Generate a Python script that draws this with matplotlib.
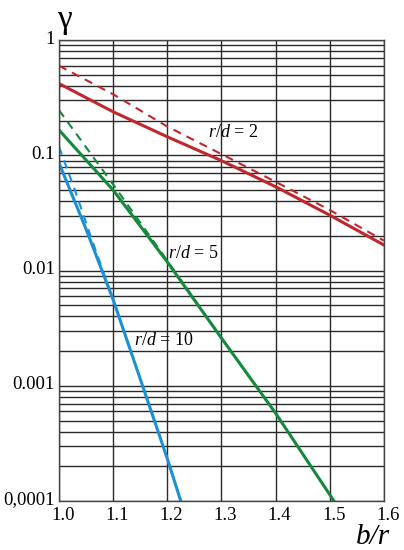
import numpy as np
import matplotlib
matplotlib.use("Agg")
import matplotlib.pyplot as plt
import matplotlib.ticker as ticker
import matplotlib.transforms as mtransforms

plt.rcParams["font.family"] = ["Liberation Serif", "DejaVu Serif"]
plt.rcParams["mathtext.fontset"] = "custom"
plt.rcParams["mathtext.rm"] = "Liberation Serif"
plt.rcParams["mathtext.it"] = "Liberation Serif:italic"

# ── DATA (gamma on a log scale) ───────────────────────────────────────────────
x_red = [1.0, 1.1, 1.2, 1.3, 1.4, 1.5, 1.6]
g_red = [0.42, 0.239, 0.145, 0.090, 0.0535, 0.0303, 0.0167]
g_red_dash = [0.60, 0.339, 0.178, 0.1026, 0.059, 0.0336, 0.0182]

x_green = [1.0, 1.1, 1.2, 1.3, 1.4, 1.5, 1.508]
g_green = [0.166, 0.050, 0.0119, 0.0026, 0.00058, 0.000114, 0.0001]
x_green_dash = [1.0, 1.1, 1.2, 1.3, 1.4, 1.5]
g_green_dash = [0.247, 0.0560, 0.0122, 0.0026, 0.00058, 0.000114]

x_blue = [1.0, 1.05, 1.1, 1.15, 1.2, 1.225]
g_blue = [0.086, 0.0229, 0.0056, 0.00115, 0.000234, 0.0001]
x_blue_dash = [1.0, 1.03, 1.06, 1.1, 1.13]
g_blue_dash = [0.119, 0.0490, 0.0190, 0.0056, 0.00215]

x_ticks = [1.0, 1.1, 1.2, 1.3, 1.4, 1.5, 1.6]
x_ticklabels = ["1.0", "1.1", "1.2", "1.3", "1.4", "1.5", "1.6"]
y_ticks = [1, 0.1, 0.01, 0.001, 0.0001]
y_ticklabels = ["1", "0.1", "0.01", "0.001", "0,0001"]

C_RED = "#c0272d"
C_GREEN = "#15893c"
C_BLUE = "#1b90d2"

# ── FIGURE ────────────────────────────────────────────────────────────────────
fig = plt.figure(figsize=(4.04, 5.5), dpi=100)
ax = fig.add_axes([0.146, 0.089, 0.804, 0.838])
ax.set_yscale("log")
ax.set_xlim(1.0, 1.6)
ax.set_ylim(0.0001, 1)

ax.set_xticks(x_ticks)
ax.set_xticklabels(x_ticklabels, fontsize=13.5)
ax.set_yticks(y_ticks)
ax.set_yticklabels(y_ticklabels, fontsize=13.5)
ax.yaxis.set_minor_locator(ticker.LogLocator(base=10, subs=np.arange(2, 10)))
ax.yaxis.set_minor_formatter(ticker.NullFormatter())
ax.tick_params(which="both", length=0)
ax.tick_params(axis="y", pad=3)
ax.tick_params(axis="x", pad=4)

# labels in the scan sit a little right of / above their grid lines
shift_x = mtransforms.ScaledTranslation(4 / 100, 0, fig.dpi_scale_trans)
for lab in ax.get_xticklabels():
    lab.set_transform(lab.get_transform() + shift_x)
shift_y = mtransforms.ScaledTranslation(0, 3 / 100, fig.dpi_scale_trans)
for lab in ax.get_yticklabels():
    lab.set_transform(lab.get_transform() + shift_y)

ax.grid(which="major", color="#2a2a2a", linewidth=1.0)
ax.grid(which="minor", axis="y", color="#2a2a2a", linewidth=1.0)
ax.set_axisbelow(True)
for sp in ax.spines.values():
    sp.set_color("#444444")
    sp.set_linewidth(1.0)

# ── CURVES ────────────────────────────────────────────────────────────────────
ax.plot(x_red, g_red_dash, color=C_RED, lw=1.5, ls=(0, (4, 3)))
ax.plot(x_red, g_red, color=C_RED, lw=2.2)
ax.plot(x_green_dash, g_green_dash, color=C_GREEN, lw=1.5, ls=(0, (4, 3)))
ax.plot(x_green, g_green, color=C_GREEN, lw=2.2)
ax.plot(x_blue_dash, g_blue_dash, color=C_BLUE, lw=1.5, ls=(0, (4, 3)))
ax.plot(x_blue, g_blue, color=C_BLUE, lw=2.2)

# ── LABELS ────────────────────────────────────────────────────────────────────
ax.text(1.275, 0.159, r"$r/d$ = 2", fontsize=13, va="center", ha="left")
ax.text(1.202, 0.0142, r"$r/d$ = 5", fontsize=13, va="center", ha="left")
ax.text(1.138, 0.00245, r"$r/d$ = 10", fontsize=13, va="center", ha="left")

fig.text(373 / 404, 1 - 537 / 550, "b/r", fontsize=21, style="italic",
         ha="center", va="center")
fig.text(64 / 404, 1 - 20 / 550, "γ", fontsize=24, ha="center", va="center")

fig.savefig("out.png", dpi=100)
